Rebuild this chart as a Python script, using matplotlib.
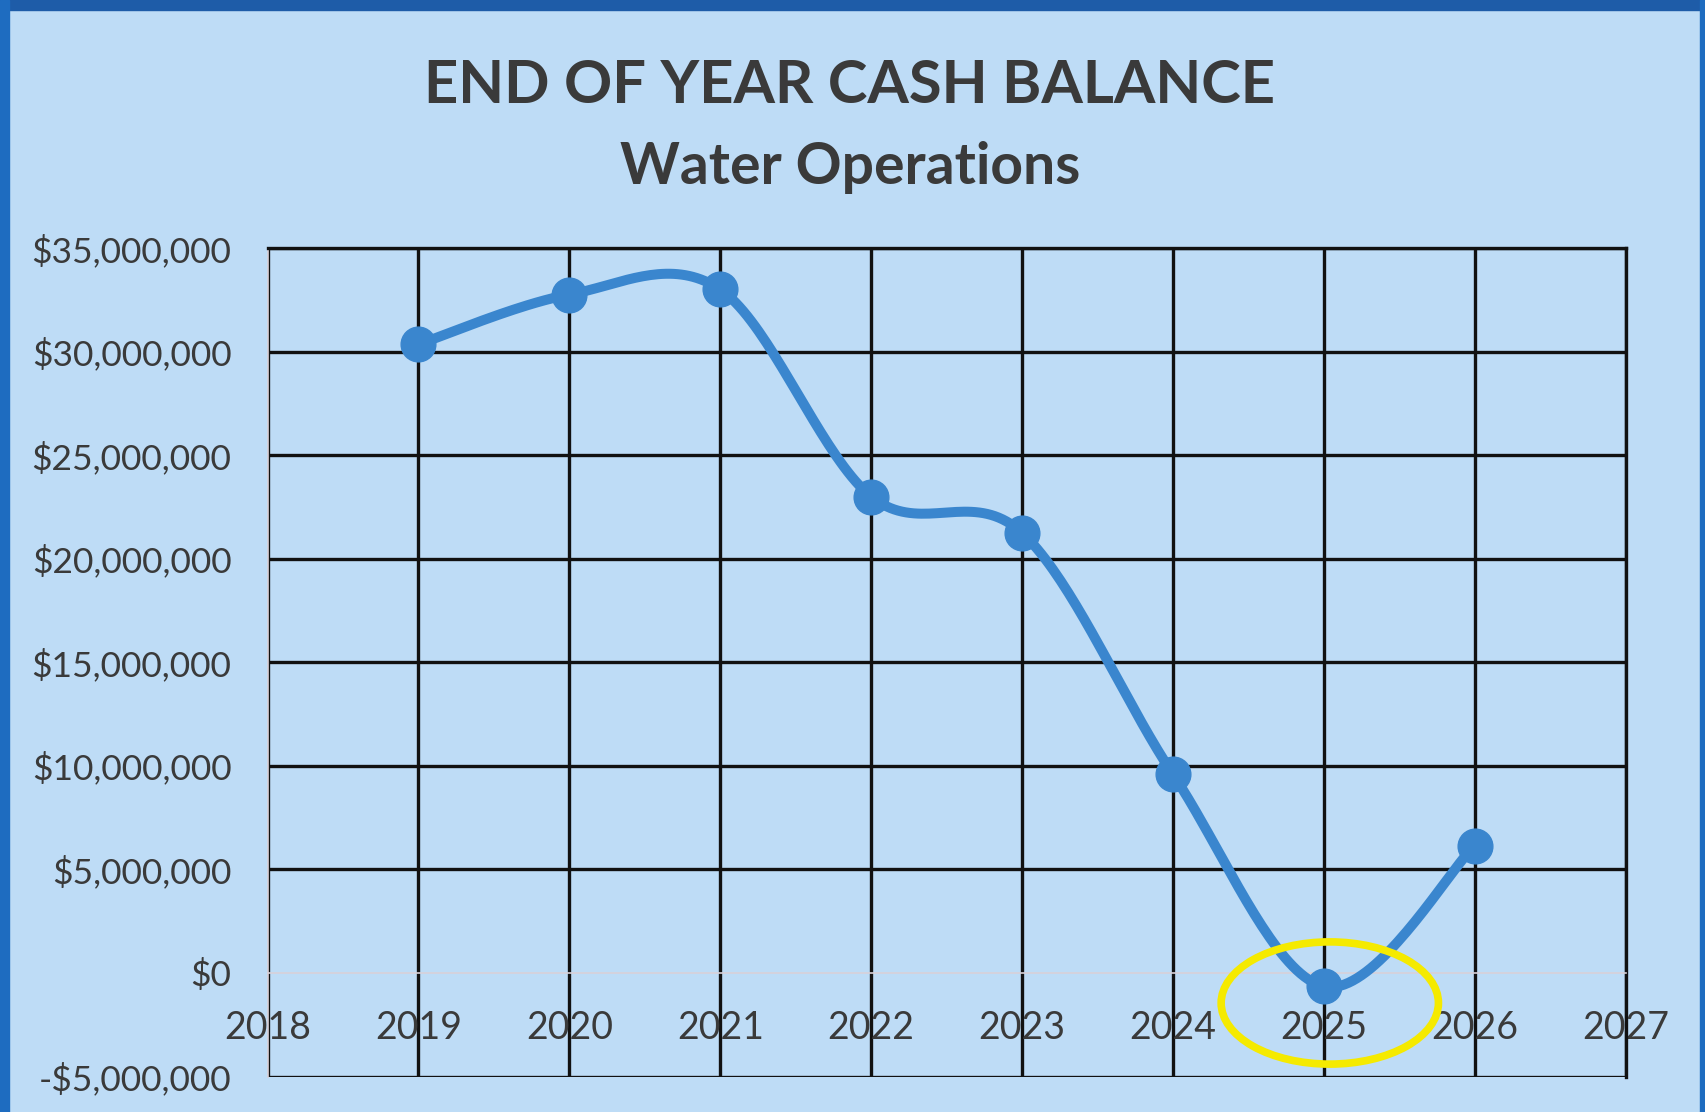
import numpy as np
import matplotlib
matplotlib.use("Agg")
import matplotlib.pyplot as plt
from matplotlib.patches import Ellipse, Rectangle
from matplotlib.ticker import FuncFormatter

# data
years = [2019, 2020, 2021, 2022, 2023, 2024, 2025, 2026]
balance = [30.35e6, 32.75e6, 33.0e6, 23.0e6, 21.25e6, 9.6e6, -0.65e6, 6.15e6]

x_ticks = list(range(2018, 2028))
y_ticks = list(range(-5_000_000, 35_000_001, 5_000_000))

title = "END OF YEAR CASH BALANCE"
subtitle = "Water Operations"

# highlight circle round the 2025 point
mark_year = 2025.04
mark_value = -1.45e6

bg = "#BEDCF6"
line_col = "#3A86CE"
text_col = "#3A3A3A"
plt.rcParams['font.family'] = ['Lato', 'DejaVu Sans']


def excel_smooth(xs, ys, n=40):
    # Excel-style smoothed line: bezier segments with catmull-rom control points
    px = np.array([xs[0]] + list(xs) + [xs[-1]], dtype=float)
    py = np.array([ys[0]] + list(ys) + [ys[-1]], dtype=float)
    out_x, out_y = [], []
    t = np.linspace(0, 1, n)
    for i in range(1, len(px) - 2):
        p0 = np.array([px[i], py[i]])
        p3 = np.array([px[i + 1], py[i + 1]])
        c1 = p0 + (np.array([px[i + 1], py[i + 1]]) - np.array([px[i - 1], py[i - 1]])) / 6
        c2 = p3 - (np.array([px[i + 2], py[i + 2]]) - np.array([px[i], py[i]])) / 6
        b = ((1 - t) ** 3)[:, None] * p0 + (3 * (1 - t) ** 2 * t)[:, None] * c1 \
            + (3 * (1 - t) * t ** 2)[:, None] * c2 + (t ** 3)[:, None] * p3
        out_x.extend(b[:, 0])
        out_y.extend(b[:, 1])
    return out_x, out_y


fig = plt.figure(figsize=(17.05, 11.12), dpi=100, facecolor=bg)
ax = fig.add_axes([0.1569, 0.0319, 0.7965, 0.7451])
ax.set_facecolor(bg)

# frame of the scanned chart
fig.patches.append(Rectangle((0, 0.991), 1, 0.009, transform=fig.transFigure, color="#1E5CA8", zorder=0))
fig.patches.append(Rectangle((0, 0), 0.005, 1, transform=fig.transFigure, color="#1E6CC0", zorder=0))
fig.patches.append(Rectangle((0.997, 0), 0.003, 1, transform=fig.transFigure, color="#1E6CC0", zorder=0))

ax.set_xlim(x_ticks[0], x_ticks[-1])
ax.set_ylim(y_ticks[0], y_ticks[-1])
ax.set_xticks(x_ticks)
ax.set_yticks(y_ticks)
ax.yaxis.set_major_formatter(FuncFormatter(lambda v, p: ("-$" if v < 0 else "$") + f"{abs(v):,.0f}"))

ax.grid(True, color="#111111", linewidth=2.4)
ax.set_axisbelow(True)
for tk, v in zip(ax.yaxis.get_major_ticks(), y_ticks):
    if v == 0:
        tk.gridline.set_visible(False)
for tk, v in zip(ax.xaxis.get_major_ticks(), x_ticks):
    if v == x_ticks[0]:
        tk.gridline.set_visible(False)

ax.spines['bottom'].set_position(('data', 0))
ax.spines['bottom'].set_color("#D8D0D8")
ax.spines['bottom'].set_linewidth(1.2)
ax.spines['left'].set_color("#D8D0D8")
ax.spines['left'].set_linewidth(1.2)
ax.spines['top'].set_color("#111111")
ax.spines['top'].set_linewidth(2.4)
ax.spines['right'].set_color("#111111")
ax.spines['right'].set_linewidth(2.4)
ax.spines['right'].set_bounds(y_ticks[0], y_ticks[-1])

ax.tick_params(axis='both', length=0, labelcolor=text_col)
ax.tick_params(axis='x', pad=27, labelsize=27)
ax.tick_params(axis='y', pad=26, labelsize=25.5)

sx, sy = excel_smooth(years, balance)
ax.plot(sx, sy, color=line_col, linewidth=7.2, solid_capstyle='round', zorder=3)
ax.plot(years, balance, 'o', color=line_col, markersize=25, zorder=4)

ax.add_patch(Ellipse((mark_year, mark_value), 1.44, 5.9e6, fill=False,
                     edgecolor="#F5EA00", linewidth=5.5, clip_on=False, zorder=5))

fig.text(0.4985, 0.923, title, ha='center', va='center', fontsize=43,
         fontweight='bold', color=text_col)
fig.text(0.4985, 0.849, subtitle, ha='center', va='center', fontsize=41,
         fontweight='bold', color=text_col)

fig.savefig("out.png", dpi=100, facecolor=bg)
